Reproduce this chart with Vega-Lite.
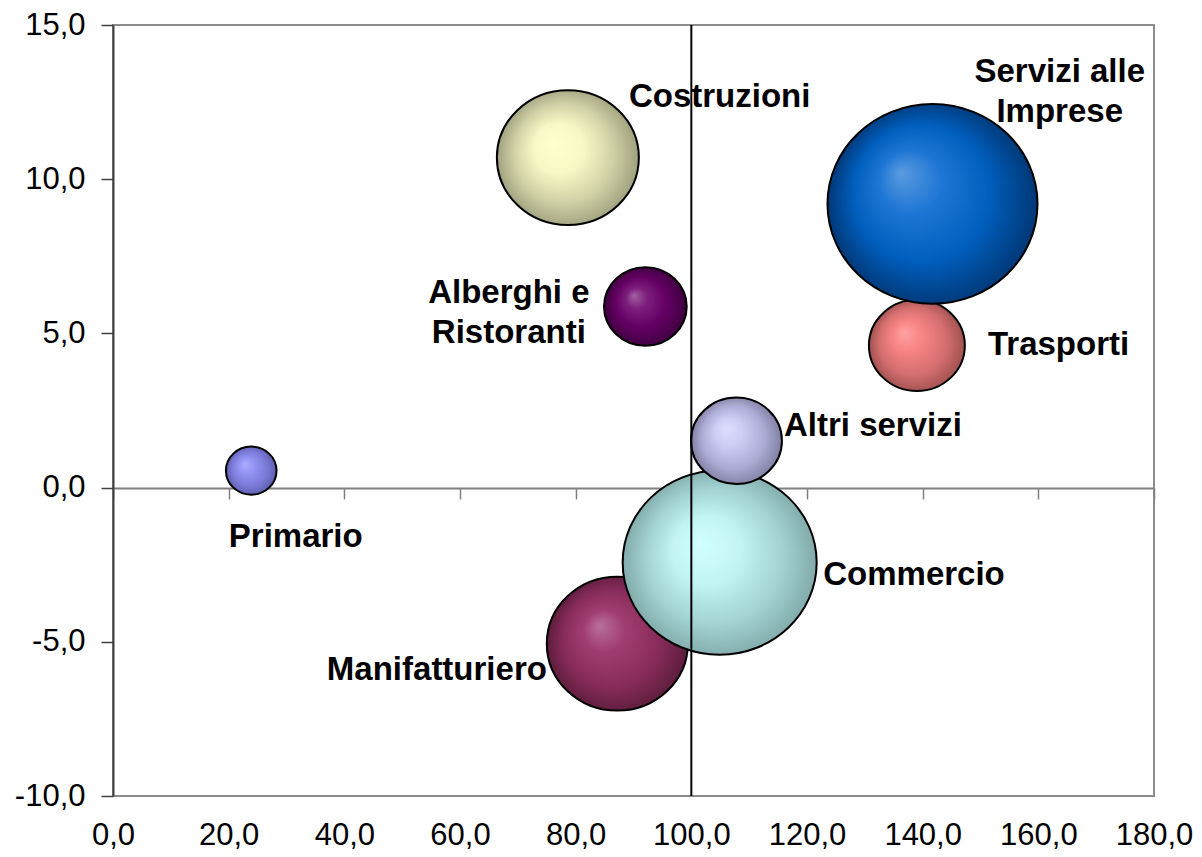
{
  "$schema": "https://vega.github.io/schema/vega-lite/v6.json",
  "width": 1041,
  "height": 771,
  "autosize": {"type": "none"},
  "padding": {"left": 113, "top": 25, "right": 48, "bottom": 61},
  "background": "white",
  "config": {
    "view": {"stroke": "#8c8c8c", "strokeWidth": 2},
    "font": "Liberation Sans",
    "axis": {"labelFont": "Liberation Sans", "labelColor": "black", "grid": false, "title": null}
  },
  "data": {
    "values": [
      {"settore": "Primario", "x": 23.9, "y": 0.55, "size": 6.4, "label": "Primario", "lx": 31.6, "ly": -1.93},
      {"settore": "Manifatturiero", "x": 87.2, "y": -5.06, "size": 49.7, "label": "Manifatturiero", "lx": 56.0, "ly": -6.24},
      {"settore": "Costruzioni", "x": 78.65, "y": 10.7, "size": 50.4, "label": "Costruzioni", "lx": 104.9, "ly": 12.35},
      {"settore": "Commercio", "x": 104.9, "y": -2.43, "size": 94.1, "label": "Commercio", "lx": 138.5, "ly": -3.16},
      {"settore": "Alberghi e Ristoranti", "x": 92.05, "y": 5.87, "size": 17.1, "label": "Alberghi e\nRistoranti", "lx": 68.45, "ly": 5.97},
      {"settore": "Trasporti", "x": 139.0, "y": 4.61, "size": 23.0, "label": "Trasporti", "lx": 163.5, "ly": 4.3},
      {"settore": "Servizi alle Imprese", "x": 141.7, "y": 9.2, "size": 110.3, "label": "Servizi alle\nImprese", "lx": 163.7, "ly": 13.16},
      {"settore": "Altri servizi", "x": 107.8, "y": 1.52, "size": 20.7, "label": "Altri servizi", "lx": 131.4, "ly": 1.67}
    ]
  },
  "resolve": {"axis": {"x": "independent"}},
  "layer": [
    {
      "mark": {
        "type": "point",
        "filled": true,
        "shape": "M-1,0A1,0.95,0,1,1,1,0A1,0.95,0,1,1,-1,0Z",
        "stroke": "black",
        "strokeWidth": 2,
        "opacity": 1,
        "fillOpacity": 1,
        "strokeOpacity": 1
      },
      "encoding": {
        "x": {
          "field": "x", "type": "quantitative",
          "scale": {"domain": [0, 180], "nice": false, "zero": false},
          "axis": {
            "orient": "bottom", "values": [0, 20, 40, 60, 80, 100, 120, 140, 160, 180],
            "domain": false, "ticks": false, "labelPadding": 24, "labelFontSize": 31,
            "labelExpr": "replace(format(datum.value, '.1f'), '.', ',')",
            "labelFlush": false, "labelOverlap": false, "title": null
          }
        },
        "y": {
          "field": "y", "type": "quantitative",
          "scale": {"domain": [-10, 15], "nice": false, "zero": false},
          "axis": {
            "orient": "left", "values": [-10, -5, 0, 5, 10, 15],
            "domain": true, "domainColor": "#404040", "domainWidth": 2,
            "ticks": true, "tickSize": 12, "tickColor": "#404040", "tickWidth": 1.5,
            "labelPadding": 16, "labelFontSize": 31,
            "labelExpr": "datum.value < 0 ? '-' + replace(format(-datum.value, '.1f'), '.', ',') : replace(format(datum.value, '.1f'), '.', ',')",
            "labelFlush": false, "labelOverlap": false, "title": null
          }
        },
        "size": {
          "field": "size", "type": "quantitative",
          "scale": {"domain": [0, 120], "range": [0, 48000], "zero": true},
          "legend": null
        },
        "fill": {
          "condition": [
            {"test": "datum.settore === 'Primario'", "value": {"gradient": "radial", "x1": 0.37, "y1": 0.37, "r1": 0, "x2": 0.5, "y2": 0.5, "r2": 0.5, "stops": [{"offset": 0, "color": "#adadff"}, {"offset": 0.3, "color": "#9494f5"}, {"offset": 0.75, "color": "#7676d2"}, {"offset": 1, "color": "#5c5cac"}]}},
            {"test": "datum.settore === 'Manifatturiero'", "value": {"gradient": "radial", "x1": 0.37, "y1": 0.37, "r1": 0, "x2": 0.5, "y2": 0.5, "r2": 0.5, "stops": [{"offset": 0, "color": "#b8709a"}, {"offset": 0.3, "color": "#a03d70"}, {"offset": 0.7, "color": "#862b59"}, {"offset": 1, "color": "#5c1d3b"}]}},
            {"test": "datum.settore === 'Costruzioni'", "value": {"gradient": "radial", "x1": 0.4, "y1": 0.4, "r1": 0, "x2": 0.5, "y2": 0.5, "r2": 0.5, "stops": [{"offset": 0, "color": "#ffffcf"}, {"offset": 0.35, "color": "#f8f8c4"}, {"offset": 0.7, "color": "#d0d0a6"}, {"offset": 1, "color": "#a0a07e"}]}},
            {"test": "datum.settore === 'Commercio'", "value": {"gradient": "radial", "x1": 0.4, "y1": 0.4, "r1": 0, "x2": 0.5, "y2": 0.5, "r2": 0.5, "stops": [{"offset": 0, "color": "#d2ffff"}, {"offset": 0.35, "color": "#c2f4f4"}, {"offset": 0.7, "color": "#a2d2d2"}, {"offset": 1, "color": "#82aaaa"}]}},
            {"test": "datum.settore === 'Alberghi e Ristoranti'", "value": {"gradient": "radial", "x1": 0.36, "y1": 0.37, "r1": 0, "x2": 0.5, "y2": 0.5, "r2": 0.5, "stops": [{"offset": 0, "color": "#a362a3"}, {"offset": 0.25, "color": "#7d1f7d"}, {"offset": 0.6, "color": "#650065"}, {"offset": 1, "color": "#3e003e"}]}},
            {"test": "datum.settore === 'Trasporti'", "value": {"gradient": "radial", "x1": 0.36, "y1": 0.36, "r1": 0, "x2": 0.5, "y2": 0.5, "r2": 0.5, "stops": [{"offset": 0, "color": "#ffa3a3"}, {"offset": 0.3, "color": "#f98585"}, {"offset": 0.7, "color": "#d46e6e"}, {"offset": 1, "color": "#a05050"}]}},
            {"test": "datum.settore === 'Servizi alle Imprese'", "value": {"gradient": "radial", "x1": 0.35, "y1": 0.35, "r1": 0, "x2": 0.5, "y2": 0.5, "r2": 0.5, "stops": [{"offset": 0, "color": "#5b9be0"}, {"offset": 0.3, "color": "#1e76d4"}, {"offset": 0.65, "color": "#005ebd"}, {"offset": 1, "color": "#003775"}]}},
            {"test": "datum.settore === 'Altri servizi'", "value": {"gradient": "radial", "x1": 0.38, "y1": 0.36, "r1": 0, "x2": 0.5, "y2": 0.5, "r2": 0.5, "stops": [{"offset": 0, "color": "#dedeff"}, {"offset": 0.3, "color": "#cecef5"}, {"offset": 0.7, "color": "#aaaad2"}, {"offset": 1, "color": "#8080a3"}]}}
          ],
          "value": "#999999"
        }
      }
    },
    {
      "mark": {
        "type": "text",
        "font": "Liberation Sans",
        "fontWeight": "bold",
        "fontSize": 33,
        "align": "center",
        "baseline": "alphabetic",
        "lineBreak": "\n",
        "lineHeight": 40,
        "color": "black"
      },
      "encoding": {
        "x": {"field": "lx", "type": "quantitative", "axis": null},
        "y": {"field": "ly", "type": "quantitative"},
        "text": {"field": "label", "type": "nominal"}
      }
    },
    {
      "data": {"values": [{}]},
      "mark": {"type": "rule", "color": "black", "strokeWidth": 2},
      "encoding": {
        "x": {
          "datum": 100, "type": "quantitative",
          "axis": {
            "orient": "bottom", "offset": -308, "values": [0, 20, 40, 60, 80, 100, 120, 140, 160, 180],
            "labels": false, "domain": true, "domainColor": "#808080", "domainWidth": 2,
            "ticks": true, "tickSize": 11, "tickColor": "#808080", "tickWidth": 1.5, "title": null
          }
        }
      }
    }
  ]
}
